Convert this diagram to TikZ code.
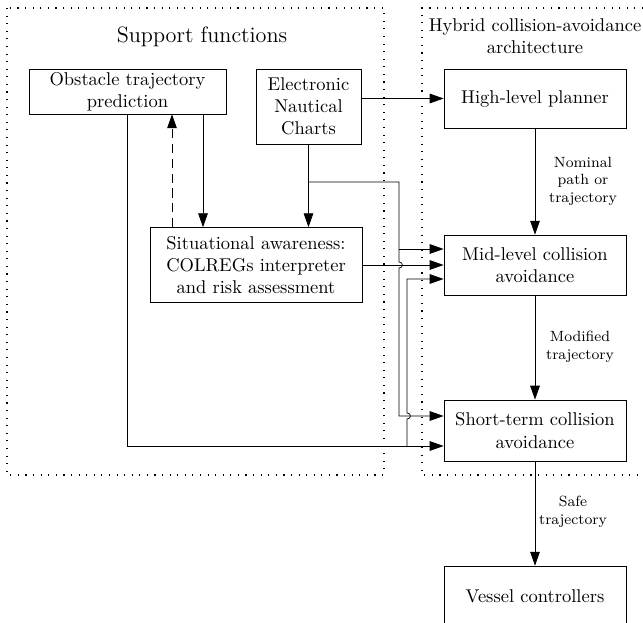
\documentclass[tikz,border=0pt]{standalone}
\usetikzlibrary{arrows.meta}
\begin{document}
\begin{tikzpicture}[x=0.5405pt,y=-0.5405pt,
  box/.style={draw,align=center,inner sep=0pt},
  arr/.style={-{Triangle[length=7.5pt,width=5.2pt]}},
  lab/.style={font=\footnotesize,align=center},
  frame/.style={line width=0.6pt,dash pattern=on 0.6pt off 3.5pt}]
\useasboundingbox (0,0) rectangle (643,623);

% group frames
\draw[frame] (7,8) rectangle (384,475);
\draw[frame] (643,8) -- (422,8) -- (422,475) -- (643,475);
\node[font=\large] (suptitle) at (202,37) {Support functions};
\node[align=center] (hybtitle) at (535,36) {Hybrid collision-avoidance\\architecture};

% support functions
\node[box,minimum width=106.5pt,minimum height=24.3pt] (otp) at (127.5,91.5) {Obstacle trajectory\\prediction};
\node[box,minimum width=56.75pt,minimum height=40.5pt] (enc) at (308.5,106.5) {Electronic\\Nautical\\Charts};
\node[box,minimum width=114.6pt,minimum height=40.5pt] (sa) at (256,265) {Situational awareness:\\COLREGs interpreter\\and risk assessment};

% collision-avoidance layers
\node[box,minimum width=98.4pt,minimum height=31.9pt] (hlp) at (535,98.5) {High-level planner};
\node[box,minimum width=98.4pt,minimum height=32.4pt] (mlc) at (535,265) {Mid-level collision\\avoidance};
\node[box,minimum width=98.4pt,minimum height=33pt] (stc) at (535,430.5) {Short-term collision\\avoidance};
\node[box,minimum width=98.4pt,minimum height=32.4pt] (vc) at (535,596) {Vessel controllers};

% routing points
\coordinate (otpx) at (203,0);
\coordinate (dashx) at (172,0);
\coordinate (encbr) at (308.5,182);
\coordinate (gtop) at (399,182);
\coordinate (gmid) at (399,249);
\coordinate (ghopa) at (399,262);
\coordinate (ghopb) at (399,268);
\coordinate (gbot) at (399,416);
\coordinate (bjoin) at (407,446);
\coordinate (bhopa) at (407,419);
\coordinate (bhopb) at (407,413);
\coordinate (btop) at (407,279);

% connectors
\draw[arr] (enc.east |- hlp.west) -- (hlp.west);
\draw[arr] (enc.south) -- (enc.south |- sa.north);
\draw[arr] (otp.south -| otpx) -- (sa.north -| otpx);
\draw[arr,dash pattern=on 5pt off 3pt] (sa.north -| dashx) -- (otp.south -| dashx);
\draw[arr] (encbr) -- (gtop) -- (ghopa) .. controls +(4.5,0) and +(4.5,0) .. (ghopb) -- (gbot) -- (gbot -| stc.west);
\draw[arr] (gmid) -- (gmid -| mlc.west);
\draw[arr] (sa.east) -- (mlc.west);
\draw[arr] (otp.south) -- (otp.south |- bjoin) -- (bjoin -| stc.west);
\draw[arr] (bjoin) -- (bhopa) .. controls +(4.5,0) and +(4.5,0) .. (bhopb) -- (btop) -- (btop -| mlc.west);

\draw[arr] (hlp.south) -- (mlc.north);
\draw[arr] (mlc.south) -- (stc.north);
\draw[arr] (stc.south) -- (vc.north);
\node[lab] (lnom) at (583,181) {Nominal\\path or\\trajectory};
\node[lab] (lmod) at (580,347) {Modified\\trajectory};
\node[lab] (lsafe) at (573,512) {Safe\\trajectory};
\end{tikzpicture}
\end{document}
